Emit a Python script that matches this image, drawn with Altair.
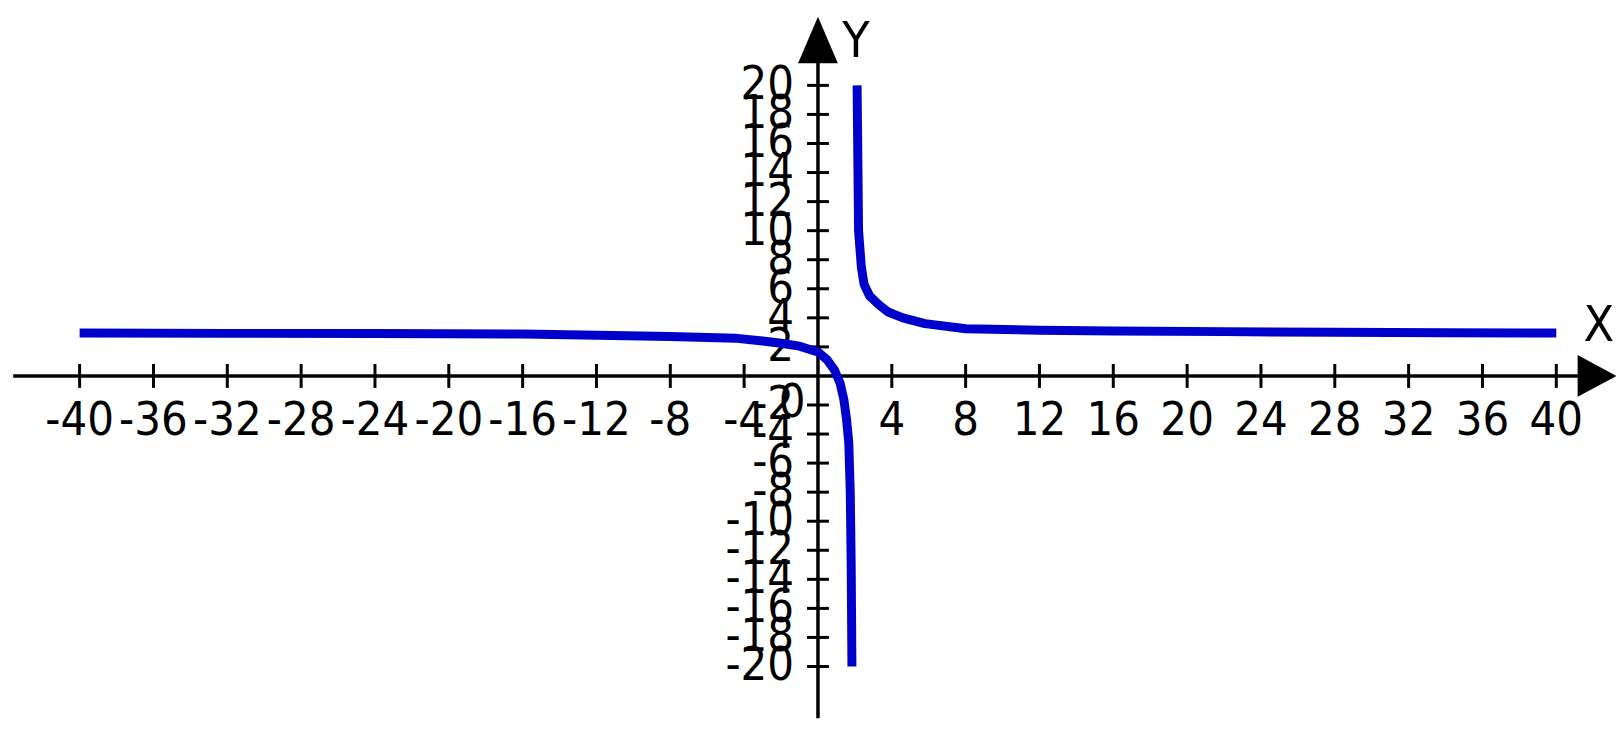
import altair as alt
import pandas as pd

# ---- curve values ----
left_x = [-40, -32, -24, -16, -12, -8, -4.5, -3, -2, -1, 0, 0.5, 0.9, 1.2, 1.4, 1.55, 1.67, 1.75, 1.8, 1.84]
left_y = [2.95, 2.93, 2.92, 2.88, 2.8, 2.72, 2.6, 2.4, 2.25, 2.05, 1.65, 1.1, 0.4, -0.5, -1.6, -3.0, -4.6, -8.0, -13.0, -20.0]
right_x = [2.12, 2.2, 2.35, 2.5, 2.8, 3.3, 3.8, 4.6, 5.8, 8, 12, 16, 22, 28, 34, 40]
right_y = [20.0, 10.0, 7.5, 6.3, 5.5, 4.9, 4.4, 4.0, 3.6, 3.25, 3.15, 3.1, 3.05, 3.0, 2.97, 2.95]

# ---- axis ticks / labels ----
x_ticks = [-40, -36, -32, -28, -24, -20, -16, -12, -8, -4, 4, 8, 12, 16, 20, 24, 28, 32, 36, 40]
y_ticks = [20, 18, 16, 14, 12, 10, 8, 6, 4, 2, -2, -4, -6, -8, -10, -12, -14, -16, -18, -20]
x_domain = [-43.881, 43.235]
y_domain = [-23.562, 25.205]
x_axis_span = [-43.6, 42.0]
y_axis_span = [-23.562, 23.0]
arrow_up = [0, 23.12]
arrow_right = [42.21, 0]
x_name = ["X", 42.3, 3.42]
y_name = ["Y", 2.05, 22.95]

FONT = "'DejaVu Sans Condensed', 'Liberation Sans', Arial, sans-serif"
FS = 47

xs = alt.Scale(domain=x_domain, nice=False, zero=False)
ys = alt.Scale(domain=y_domain, nice=False, zero=False)

def X(f):
    return alt.X(f, type="quantitative", scale=xs, axis=None)

def Y(f):
    return alt.Y(f, type="quantitative", scale=ys, axis=None)

curve = pd.DataFrame({
    "x": left_x + right_x,
    "y": left_y + right_y,
    "branch": ["a"] * len(left_x) + ["b"] * len(right_x),
})

line = alt.Chart(curve).mark_line(color="#0000cc", strokeWidth=9, strokeJoin="round").encode(
    x=X("x"), y=Y("y"), detail="branch:N", order="x:Q"
)

xaxis = alt.Chart(pd.DataFrame({"x": [x_axis_span[0]], "x2": [x_axis_span[1]], "y": [0]})).mark_rule(
    color="black", strokeWidth=3.5).encode(x=X("x"), x2="x2:Q", y=Y("y"))
yaxis = alt.Chart(pd.DataFrame({"y": [y_axis_span[0]], "y2": [y_axis_span[1]], "x": [0]})).mark_rule(
    color="black", strokeWidth=3.5).encode(y=Y("y"), y2="y2:Q", x=X("x"))

xt = pd.DataFrame({"x": x_ticks, "y": [0] * len(x_ticks), "label": [str(v) for v in x_ticks]})
yt = pd.DataFrame({"y": y_ticks, "x": [0] * len(y_ticks), "label": [str(v) for v in y_ticks]})

xtick = alt.Chart(xt).mark_tick(orient="vertical", size=24, thickness=3, color="black", opacity=1).encode(
    x=X("x"), y=Y("y"))
ytick = alt.Chart(yt).mark_tick(orient="horizontal", size=22, thickness=3, color="black", opacity=1).encode(
    x=X("x"), y=Y("y"))

xlab = alt.Chart(xt).mark_text(font=FONT, fontSize=FS, dy=45, baseline="middle", align="center", color="black").encode(
    x=X("x"), y=Y("y"), text="label:N")
ylab = alt.Chart(yt).mark_text(font=FONT, fontSize=FS, dx=-24, baseline="middle", align="right", color="black").encode(
    x=X("x"), y=Y("y"), text="label:N")
zero = alt.Chart(pd.DataFrame({"x": [0], "y": [0], "label": ["0"]})).mark_text(
    font=FONT, fontSize=FS, dx=-26, dy=27, baseline="middle", align="center", color="black").encode(
    x=X("x"), y=Y("y"), text="label:N")

up = alt.Chart(pd.DataFrame({"x": [arrow_up[0]], "y": [arrow_up[1]]})).mark_point(
    shape="M-1,1.17L0,-1.17L1,1.17Z", size=1600, filled=True, color="black", opacity=1).encode(x=X("x"), y=Y("y"))
right = alt.Chart(pd.DataFrame({"x": [arrow_right[0]], "y": [arrow_right[1]]})).mark_point(
    shape="M-0.93,-1L0.93,0L-0.93,1Z", size=1764, filled=True, color="black", opacity=1).encode(x=X("x"), y=Y("y"))

names = pd.DataFrame({"label": [x_name[0], y_name[0]], "x": [x_name[1], y_name[1]], "y": [x_name[2], y_name[2]]})
namelab = alt.Chart(names).mark_text(font=FONT, fontSize=50, fontWeight=300, baseline="middle", align="center",
                                     color="black").encode(
    x=X("x"), y=Y("y"), text="label:N")

chart = alt.layer(xaxis, yaxis, xtick, ytick, xlab, ylab, zero, up, right, namelab, line).properties(
    width=1616, height=712, padding=0, autosize=alt.AutoSizeParams(type="none"), background="white"
).configure_view(stroke=None)

chart.save("out.html", embed_options={"renderer": "svg", "actions": False})
